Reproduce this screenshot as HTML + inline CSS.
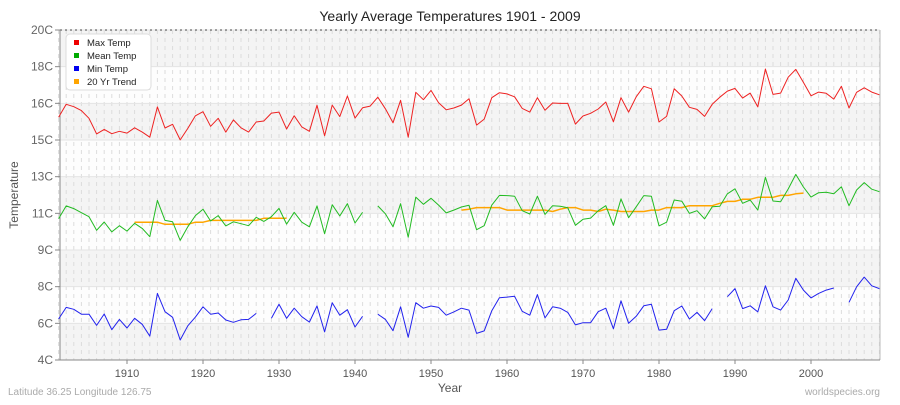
<!DOCTYPE html>
<html><head><meta charset="utf-8"><style>
body{margin:0;background:#fff;font-family:"Liberation Sans",sans-serif}
svg text{font-family:"Liberation Sans",sans-serif}
</style></head><body>
<svg id="chart" width="900" height="400" xmlns="http://www.w3.org/2000/svg">
<text x="450" y="21" text-anchor="middle" font-size="14" fill="#222">Yearly Average Temperatures 1901 - 2009</text>
<text x="450" y="392" text-anchor="middle" font-size="12" fill="#555">Year</text>
<text transform="translate(18,195) rotate(-90)" text-anchor="middle" font-size="12" fill="#555">Temperature</text>
<text x="8" y="395" font-size="10" fill="#aaa">Latitude 36.25 Longitude 126.75</text>
<text x="880" y="395" text-anchor="end" font-size="10" fill="#aaa">worldspecies.org</text>
<g id="plot"></g>
</svg>
<script>
const years0 = 1901;
const maxTemp = [15.77,16.40,16.28,16.09,15.72,14.96,15.18,14.97,15.09,15.00,15.26,15.05,14.80,16.27,15.25,15.43,14.67,15.23,15.84,16.04,15.33,15.72,15.05,15.64,15.26,15.05,15.54,15.59,15.97,16.02,15.20,15.84,15.30,15.09,16.35,14.87,16.36,15.80,16.80,15.73,16.23,16.31,16.74,16.18,15.50,16.59,14.80,16.98,16.62,17.07,16.47,16.13,16.22,16.36,16.67,15.39,15.68,16.72,16.96,16.90,16.76,16.20,16.02,16.72,16.11,16.46,16.44,16.44,15.44,15.83,15.96,16.17,16.51,15.55,16.72,16.02,16.76,17.27,17.15,15.54,15.81,17.15,16.80,16.25,16.15,15.81,16.40,16.74,17.04,17.17,16.70,16.94,16.27,18.11,16.88,16.94,17.71,18.09,17.46,16.81,16.99,16.93,16.65,17.27,16.22,16.98,17.20,16.99,16.86];
const meanTemp = [10.85,11.47,11.34,11.14,10.95,10.29,10.69,10.21,10.51,10.25,10.63,10.38,9.98,11.74,10.77,10.70,9.80,10.46,11.00,11.31,10.74,11.00,10.50,10.70,10.61,10.51,10.92,10.72,10.95,11.35,10.59,11.16,10.68,10.46,11.47,10.12,11.53,10.98,11.58,10.64,11.16,null,11.47,11.09,10.46,11.58,9.95,11.90,11.55,11.84,11.51,11.13,11.27,11.42,11.50,10.32,10.51,11.51,11.98,11.97,11.94,11.24,11.08,11.94,11.06,11.48,11.45,11.38,10.53,10.82,10.88,11.24,11.48,10.53,11.81,10.90,11.43,11.97,11.94,10.50,10.68,11.76,11.70,11.11,11.24,10.84,11.43,11.45,12.06,12.30,11.60,11.76,11.27,12.86,11.71,11.67,12.29,13.00,12.39,11.90,12.11,12.13,12.06,12.40,11.48,12.24,12.60,12.28,12.16];
const minTemp = [5.99,6.55,6.46,6.22,6.22,5.68,6.23,5.47,5.97,5.55,6.02,5.73,5.16,7.23,6.34,6.07,4.97,5.66,6.08,6.58,6.22,6.28,5.94,5.83,5.95,5.97,6.26,null,6.02,6.70,6.02,6.51,6.10,5.84,6.62,5.36,6.78,6.17,6.44,5.60,6.12,null,6.22,5.97,5.42,6.58,5.10,6.78,6.51,6.62,6.55,6.17,6.33,6.51,6.42,5.29,5.41,6.39,7.02,7.05,7.09,6.36,6.17,7.17,6.04,6.58,6.51,6.31,5.70,5.81,5.81,6.34,6.51,5.52,6.87,5.78,6.12,6.63,6.70,5.45,5.49,6.39,6.62,5.99,6.31,5.91,6.49,null,7.07,7.46,6.49,6.63,6.33,7.60,6.58,6.42,6.91,7.96,7.39,7.01,7.23,7.39,7.49,null,6.80,7.55,8.02,7.60,7.46];
const trend = [null,null,null,null,null,null,null,null,null,null,10.68,10.68,10.68,10.68,10.58,10.58,10.58,10.58,10.68,10.68,10.77,10.77,10.77,10.77,10.77,10.77,10.77,10.87,10.87,10.87,10.87,null,null,null,null,null,null,null,null,null,null,null,null,null,null,null,null,null,null,null,null,null,null,11.27,11.31,11.39,11.39,11.39,11.39,11.27,11.27,11.27,11.27,11.27,11.27,11.20,11.31,11.39,11.39,11.27,11.27,11.20,11.31,11.27,11.20,11.20,11.20,11.20,11.27,11.27,11.39,11.39,11.39,11.48,11.48,11.48,11.48,11.60,11.69,11.69,11.79,11.79,11.89,11.89,11.89,11.98,11.98,12.06,12.09,null,null,null,null,null,null,null,null,null,null];
const xTickYears = [1910,1920,1930,1940,1950,1960,1970,1980,1990,2000];
const yMin = 4, yMax = 20, yTickCount = 10;

const L=60,R=880,T=30,B=360;
const NS="http://www.w3.org/2000/svg";
const xs = yr => 58.6 + (yr-1901)*7.6;
const ys = v => B - (v-yMin)/(yMax-yMin)*(B-T);
const plot=document.getElementById('plot');
function mk(tag,attrs,parent){const e=document.createElementNS(NS,tag);for(const k in attrs)e.setAttribute(k,attrs[k]);(parent||plot).appendChild(e);return e;}

for(let i=0;i<yTickCount-1;i++){
  const v0=yMin+(yMax-yMin)*i/(yTickCount-1), v1=yMin+(yMax-yMin)*(i+1)/(yTickCount-1);
  const r=mk('rect',{x:L,y:ys(v1),width:R-L,height:ys(v0)-ys(v1),fill:(i%2===0)?'#f4f4f4':'#fdfdfd'});
  
  
}
for(let yr=1901;yr<=2009;yr++){
  const g=mk('line',{x1:xs(yr),x2:xs(yr),y1:T,y2:B,stroke:'#dcdcdc','stroke-width':1,'stroke-dasharray':'4,4'});
  
  
}
for(let i=0;i<yTickCount;i++){
  const v=yMin+(yMax-yMin)*i/(yTickCount-1);
  const hl=mk('line',{x1:L,x2:R,y1:ys(v),y2:ys(v),stroke:'#e4e4e4','stroke-width':1});
  
  
  const tk=mk('line',{x1:L-5,x2:L,y1:ys(v),y2:ys(v),stroke:'#888'});
  
  
  const t=mk('text',{x:L-7,y:ys(v)+4,'text-anchor':'end','font-size':12,fill:'#666'});
  t.textContent=Math.round(v)+'C';
  
  
}
const topBorder=mk('line',{x1:L,x2:R,y1:T,y2:T,stroke:'#444','stroke-width':1,'stroke-dasharray':'2,3'});


const rb=mk('line',{x1:R,x2:R,y1:T,y2:B,stroke:'#bbb','stroke-width':1});


xTickYears.forEach(yr=>{
  const tk=mk('line',{x1:xs(yr),x2:xs(yr),y1:B,y2:B+4,stroke:'#888'});
  
  
  const t=mk('text',{x:xs(yr),y:B+17,'text-anchor':'middle','font-size':11,fill:'#555'});
  t.textContent=yr;
  
  
});
const ax=mk('line',{x1:L,x2:L,y1:T,y2:B,stroke:'#888'});


const bx=mk('line',{x1:L,x2:R,y1:B,y2:B,stroke:'#888'});



function series(arr,color,name,w){
  let d='',pen=false;
  arr.forEach((v,i)=>{
    if(v===null){pen=false;return;}
    d+=(pen?'L':'M')+xs(years0+i).toFixed(1)+','+ys(v).toFixed(1);
    pen=true;
  });
  const p=mk('path',{d:d,fill:'none',stroke:color,'stroke-width':w,'stroke-linejoin':'round'});
  
  
}
series(trend,'#ffa500','trend-line',1.5);
series(maxTemp,'#ee2222','max-temp-line',1);
series(meanTemp,'#22bb22','mean-temp-line',1);
series(minTemp,'#2222ee','min-temp-line',1);

const lg=mk('g',{});


mk('rect',{x:66,y:34,width:85,height:56,rx:4,fill:'#fff',stroke:'#ddd'},lg);
[['Max Temp','#ee0000'],['Mean Temp','#00aa00'],['Min Temp','#0000ee'],['20 Yr Trend','#ffa500']].forEach((e,i)=>{
  const g=mk('g',{},lg);
  
  
  mk('rect',{x:74,y:40+i*13,width:5,height:5,fill:e[1]},g);
  const t=mk('text',{x:87,y:46+i*13,'font-size':9.5,fill:'#222'},g);
  t.textContent=e[0];
});
</script>
</body></html>
